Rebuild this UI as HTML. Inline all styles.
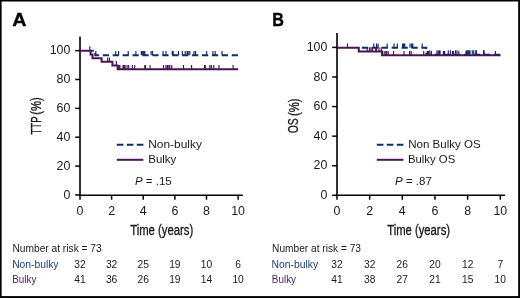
<!DOCTYPE html>
<html><head><meta charset="utf-8"><style>
html,body{margin:0;padding:0;background:#fff;}
body{width:520px;height:298px;overflow:hidden;}
svg{display:block;font-family:"Liberation Sans", sans-serif;will-change:transform;}
</style></head><body>
<svg width="520" height="298" viewBox="0 0 520 298">
<rect x="0" y="0" width="520" height="298" fill="#fff"/>
<path d="M80.0 36.6 V195.2 H242.8" fill="none" stroke="#000" stroke-width="1.6"/>
<line x1="75.2" y1="50.65" x2="80.0" y2="50.65" stroke="#000" stroke-width="1.5"/>
<text x="70.4" y="54.25" font-size="12.4" text-anchor="end" fill="#1a1a1a" font-weight="normal" font-style="normal" >100</text>
<line x1="75.2" y1="79.51" x2="80.0" y2="79.51" stroke="#000" stroke-width="1.5"/>
<text x="70.4" y="83.11" font-size="12.4" text-anchor="end" fill="#1a1a1a" font-weight="normal" font-style="normal" >80</text>
<line x1="75.2" y1="108.37" x2="80.0" y2="108.37" stroke="#000" stroke-width="1.5"/>
<text x="70.4" y="111.97" font-size="12.4" text-anchor="end" fill="#1a1a1a" font-weight="normal" font-style="normal" >60</text>
<line x1="75.2" y1="137.23" x2="80.0" y2="137.23" stroke="#000" stroke-width="1.5"/>
<text x="70.4" y="140.83" font-size="12.4" text-anchor="end" fill="#1a1a1a" font-weight="normal" font-style="normal" >40</text>
<line x1="75.2" y1="166.09" x2="80.0" y2="166.09" stroke="#000" stroke-width="1.5"/>
<text x="70.4" y="169.69" font-size="12.4" text-anchor="end" fill="#1a1a1a" font-weight="normal" font-style="normal" >20</text>
<line x1="75.2" y1="194.95" x2="80.0" y2="194.95" stroke="#000" stroke-width="1.5"/>
<text x="70.4" y="198.55" font-size="12.4" text-anchor="end" fill="#1a1a1a" font-weight="normal" font-style="normal" >0</text>
<line x1="80.00" y1="195.2" x2="80.00" y2="199.7" stroke="#000" stroke-width="1.5"/>
<text x="80.00" y="215.0" font-size="12.4" text-anchor="middle" fill="#1a1a1a" font-weight="normal" font-style="normal" >0</text>
<line x1="111.62" y1="195.2" x2="111.62" y2="199.7" stroke="#000" stroke-width="1.5"/>
<text x="111.62" y="215.0" font-size="12.4" text-anchor="middle" fill="#1a1a1a" font-weight="normal" font-style="normal" >2</text>
<line x1="143.24" y1="195.2" x2="143.24" y2="199.7" stroke="#000" stroke-width="1.5"/>
<text x="143.24" y="215.0" font-size="12.4" text-anchor="middle" fill="#1a1a1a" font-weight="normal" font-style="normal" >4</text>
<line x1="174.86" y1="195.2" x2="174.86" y2="199.7" stroke="#000" stroke-width="1.5"/>
<text x="174.86" y="215.0" font-size="12.4" text-anchor="middle" fill="#1a1a1a" font-weight="normal" font-style="normal" >6</text>
<line x1="206.48" y1="195.2" x2="206.48" y2="199.7" stroke="#000" stroke-width="1.5"/>
<text x="206.48" y="215.0" font-size="12.4" text-anchor="middle" fill="#1a1a1a" font-weight="normal" font-style="normal" >8</text>
<line x1="238.10" y1="195.2" x2="238.10" y2="199.7" stroke="#000" stroke-width="1.5"/>
<text x="238.10" y="215.0" font-size="12.4" text-anchor="middle" fill="#1a1a1a" font-weight="normal" font-style="normal" >10</text>
<path d="M337.0 33.1 V195.2 H505.0" fill="none" stroke="#000" stroke-width="1.6"/>
<line x1="332.2" y1="47.40" x2="337.0" y2="47.40" stroke="#000" stroke-width="1.5"/>
<text x="327.4" y="51.00" font-size="12.4" text-anchor="end" fill="#1a1a1a" font-weight="normal" font-style="normal" >100</text>
<line x1="332.2" y1="76.98" x2="337.0" y2="76.98" stroke="#000" stroke-width="1.5"/>
<text x="327.4" y="80.58" font-size="12.4" text-anchor="end" fill="#1a1a1a" font-weight="normal" font-style="normal" >80</text>
<line x1="332.2" y1="106.56" x2="337.0" y2="106.56" stroke="#000" stroke-width="1.5"/>
<text x="327.4" y="110.16" font-size="12.4" text-anchor="end" fill="#1a1a1a" font-weight="normal" font-style="normal" >60</text>
<line x1="332.2" y1="136.14" x2="337.0" y2="136.14" stroke="#000" stroke-width="1.5"/>
<text x="327.4" y="139.74" font-size="12.4" text-anchor="end" fill="#1a1a1a" font-weight="normal" font-style="normal" >40</text>
<line x1="332.2" y1="165.72" x2="337.0" y2="165.72" stroke="#000" stroke-width="1.5"/>
<text x="327.4" y="169.32" font-size="12.4" text-anchor="end" fill="#1a1a1a" font-weight="normal" font-style="normal" >20</text>
<line x1="332.2" y1="195.30" x2="337.0" y2="195.30" stroke="#000" stroke-width="1.5"/>
<text x="327.4" y="198.90" font-size="12.4" text-anchor="end" fill="#1a1a1a" font-weight="normal" font-style="normal" >0</text>
<line x1="337.00" y1="195.2" x2="337.00" y2="199.7" stroke="#000" stroke-width="1.5"/>
<text x="337.00" y="215.0" font-size="12.4" text-anchor="middle" fill="#1a1a1a" font-weight="normal" font-style="normal" >0</text>
<line x1="369.66" y1="195.2" x2="369.66" y2="199.7" stroke="#000" stroke-width="1.5"/>
<text x="369.66" y="215.0" font-size="12.4" text-anchor="middle" fill="#1a1a1a" font-weight="normal" font-style="normal" >2</text>
<line x1="402.32" y1="195.2" x2="402.32" y2="199.7" stroke="#000" stroke-width="1.5"/>
<text x="402.32" y="215.0" font-size="12.4" text-anchor="middle" fill="#1a1a1a" font-weight="normal" font-style="normal" >4</text>
<line x1="434.98" y1="195.2" x2="434.98" y2="199.7" stroke="#000" stroke-width="1.5"/>
<text x="434.98" y="215.0" font-size="12.4" text-anchor="middle" fill="#1a1a1a" font-weight="normal" font-style="normal" >6</text>
<line x1="467.64" y1="195.2" x2="467.64" y2="199.7" stroke="#000" stroke-width="1.5"/>
<text x="467.64" y="215.0" font-size="12.4" text-anchor="middle" fill="#1a1a1a" font-weight="normal" font-style="normal" >8</text>
<line x1="500.30" y1="195.2" x2="500.30" y2="199.7" stroke="#000" stroke-width="1.5"/>
<text x="500.30" y="215.0" font-size="12.4" text-anchor="middle" fill="#1a1a1a" font-weight="normal" font-style="normal" >10</text>
<text x="12.35" y="26.00" font-size="18.2" font-weight="bold" fill="#000" stroke="#000" stroke-width="0.35" textLength="14.24" lengthAdjust="spacingAndGlyphs">A</text>
<text x="272.24" y="26.00" font-size="18.2" font-weight="bold" fill="#000" stroke="#000" stroke-width="0.35" textLength="11.66" lengthAdjust="spacingAndGlyphs">B</text>
<text x="130.16" y="235.00" font-size="15.3" font-weight="normal" fill="#1a1a1a" stroke="#1a1a1a" stroke-width="0.35" textLength="63.05" lengthAdjust="spacingAndGlyphs">Time (years)</text>
<text x="387.17" y="235.40" font-size="15.3" font-weight="normal" fill="#1a1a1a" stroke="#1a1a1a" stroke-width="0.35" textLength="62.87" lengthAdjust="spacingAndGlyphs">Time (years)</text>
<text transform="translate(41.19 134.52) rotate(-90)" x="0" y="0" font-size="14.6" font-weight="normal" fill="#1a1a1a" stroke="#1a1a1a" stroke-width="0.3" textLength="18.12" lengthAdjust="spacingAndGlyphs">TTP</text>
<text transform="translate(41.36 114.76) rotate(-90)" x="0" y="0" font-size="14.6" font-weight="normal" fill="#1a1a1a" stroke="#1a1a1a" stroke-width="0.3" textLength="17.51" lengthAdjust="spacingAndGlyphs">(%)</text>
<text transform="translate(298.17 133.28) rotate(-90)" x="0" y="0" font-size="15.0" font-weight="normal" fill="#1a1a1a" stroke="#1a1a1a" stroke-width="0.3" textLength="15.09" lengthAdjust="spacingAndGlyphs">OS</text>
<text transform="translate(298.94 116.02) rotate(-90)" x="0" y="0" font-size="14.6" font-weight="normal" fill="#1a1a1a" stroke="#1a1a1a" stroke-width="0.3" textLength="17.59" lengthAdjust="spacingAndGlyphs">(%)</text>
<line x1="116.8" y1="144.8" x2="143.4" y2="144.8" stroke="#0f2c6c" stroke-width="2" stroke-dasharray="6.6 3.4"/>
<line x1="116.8" y1="159.8" x2="143.4" y2="159.8" stroke="#481654" stroke-width="2"/>
<text x="148.15" y="148.40" font-size="11.6" font-weight="normal" fill="#1a1a1a" textLength="53.74" lengthAdjust="spacingAndGlyphs">Non-bulky</text>
<text x="148.24" y="163.40" font-size="11.6" font-weight="normal" fill="#1a1a1a" textLength="28.05" lengthAdjust="spacingAndGlyphs">Bulky</text>
<text x="135.01" y="184.60" font-size="11.6" font-weight="normal" fill="#1a1a1a" textLength="36.73" lengthAdjust="spacingAndGlyphs"><tspan font-style="italic">P</tspan> = .15</text>
<line x1="376.8" y1="144.8" x2="403.40000000000003" y2="144.8" stroke="#0f2c6c" stroke-width="2" stroke-dasharray="6.6 3.4"/>
<line x1="376.8" y1="159.8" x2="403.40000000000003" y2="159.8" stroke="#481654" stroke-width="2"/>
<text x="408.18" y="148.40" font-size="11.6" font-weight="normal" fill="#1a1a1a" textLength="72.49" lengthAdjust="spacingAndGlyphs">Non Bulky OS</text>
<text x="407.89" y="163.40" font-size="11.6" font-weight="normal" fill="#1a1a1a" textLength="47.33" lengthAdjust="spacingAndGlyphs">Bulky OS</text>
<text x="395.02" y="184.60" font-size="11.6" font-weight="normal" fill="#1a1a1a" textLength="36.80" lengthAdjust="spacingAndGlyphs"><tspan font-style="italic">P</tspan> = .87</text>
<text x="12.43" y="252.10" font-size="11.0" font-weight="normal" fill="#1a1a1a" textLength="89.28" lengthAdjust="spacingAndGlyphs">Number at risk = 73</text>
<text x="12.14" y="267.60" font-size="11.0" font-weight="normal" fill="#1f3b7a" textLength="46.41" lengthAdjust="spacingAndGlyphs">Non-bulky</text>
<text x="12.26" y="282.90" font-size="11.0" font-weight="normal" fill="#4f2064" textLength="24.14" lengthAdjust="spacingAndGlyphs">Bulky</text>
<text x="80.00" y="267.9" font-size="11.0" text-anchor="middle" fill="#1a1a1a" font-weight="normal" font-style="normal" textLength="11.4" lengthAdjust="spacingAndGlyphs" >32</text>
<text x="80.00" y="283.0" font-size="11.0" text-anchor="middle" fill="#1a1a1a" font-weight="normal" font-style="normal" textLength="11.4" lengthAdjust="spacingAndGlyphs" >41</text>
<text x="111.62" y="267.9" font-size="11.0" text-anchor="middle" fill="#1a1a1a" font-weight="normal" font-style="normal" textLength="11.4" lengthAdjust="spacingAndGlyphs" >32</text>
<text x="111.62" y="283.0" font-size="11.0" text-anchor="middle" fill="#1a1a1a" font-weight="normal" font-style="normal" textLength="11.4" lengthAdjust="spacingAndGlyphs" >36</text>
<text x="143.24" y="267.9" font-size="11.0" text-anchor="middle" fill="#1a1a1a" font-weight="normal" font-style="normal" textLength="11.4" lengthAdjust="spacingAndGlyphs" >25</text>
<text x="143.24" y="283.0" font-size="11.0" text-anchor="middle" fill="#1a1a1a" font-weight="normal" font-style="normal" textLength="11.4" lengthAdjust="spacingAndGlyphs" >26</text>
<text x="174.86" y="267.9" font-size="11.0" text-anchor="middle" fill="#1a1a1a" font-weight="normal" font-style="normal" textLength="11.4" lengthAdjust="spacingAndGlyphs" >19</text>
<text x="174.86" y="283.0" font-size="11.0" text-anchor="middle" fill="#1a1a1a" font-weight="normal" font-style="normal" textLength="11.4" lengthAdjust="spacingAndGlyphs" >19</text>
<text x="206.48" y="267.9" font-size="11.0" text-anchor="middle" fill="#1a1a1a" font-weight="normal" font-style="normal" textLength="11.4" lengthAdjust="spacingAndGlyphs" >10</text>
<text x="206.48" y="283.0" font-size="11.0" text-anchor="middle" fill="#1a1a1a" font-weight="normal" font-style="normal" textLength="11.4" lengthAdjust="spacingAndGlyphs" >14</text>
<text x="238.10" y="267.9" font-size="11.0" text-anchor="middle" fill="#1a1a1a" font-weight="normal" font-style="normal" textLength="5.7" lengthAdjust="spacingAndGlyphs" >6</text>
<text x="238.10" y="283.0" font-size="11.0" text-anchor="middle" fill="#1a1a1a" font-weight="normal" font-style="normal" textLength="11.4" lengthAdjust="spacingAndGlyphs" >10</text>
<text x="272.05" y="252.10" font-size="11.0" font-weight="normal" fill="#1a1a1a" textLength="88.98" lengthAdjust="spacingAndGlyphs">Number at risk = 73</text>
<text x="271.51" y="267.60" font-size="11.0" font-weight="normal" fill="#1f3b7a" textLength="46.63" lengthAdjust="spacingAndGlyphs">Non-bulky</text>
<text x="271.84" y="282.90" font-size="11.0" font-weight="normal" fill="#4f2064" textLength="24.20" lengthAdjust="spacingAndGlyphs">Bulky</text>
<text x="337.00" y="267.9" font-size="11.0" text-anchor="middle" fill="#1a1a1a" font-weight="normal" font-style="normal" textLength="11.4" lengthAdjust="spacingAndGlyphs" >32</text>
<text x="337.00" y="283.0" font-size="11.0" text-anchor="middle" fill="#1a1a1a" font-weight="normal" font-style="normal" textLength="11.4" lengthAdjust="spacingAndGlyphs" >41</text>
<text x="369.66" y="267.9" font-size="11.0" text-anchor="middle" fill="#1a1a1a" font-weight="normal" font-style="normal" textLength="11.4" lengthAdjust="spacingAndGlyphs" >32</text>
<text x="369.66" y="283.0" font-size="11.0" text-anchor="middle" fill="#1a1a1a" font-weight="normal" font-style="normal" textLength="11.4" lengthAdjust="spacingAndGlyphs" >38</text>
<text x="402.32" y="267.9" font-size="11.0" text-anchor="middle" fill="#1a1a1a" font-weight="normal" font-style="normal" textLength="11.4" lengthAdjust="spacingAndGlyphs" >26</text>
<text x="402.32" y="283.0" font-size="11.0" text-anchor="middle" fill="#1a1a1a" font-weight="normal" font-style="normal" textLength="11.4" lengthAdjust="spacingAndGlyphs" >27</text>
<text x="434.98" y="267.9" font-size="11.0" text-anchor="middle" fill="#1a1a1a" font-weight="normal" font-style="normal" textLength="11.4" lengthAdjust="spacingAndGlyphs" >20</text>
<text x="434.98" y="283.0" font-size="11.0" text-anchor="middle" fill="#1a1a1a" font-weight="normal" font-style="normal" textLength="11.4" lengthAdjust="spacingAndGlyphs" >21</text>
<text x="467.64" y="267.9" font-size="11.0" text-anchor="middle" fill="#1a1a1a" font-weight="normal" font-style="normal" textLength="11.4" lengthAdjust="spacingAndGlyphs" >12</text>
<text x="467.64" y="283.0" font-size="11.0" text-anchor="middle" fill="#1a1a1a" font-weight="normal" font-style="normal" textLength="11.4" lengthAdjust="spacingAndGlyphs" >15</text>
<text x="500.30" y="267.9" font-size="11.0" text-anchor="middle" fill="#1a1a1a" font-weight="normal" font-style="normal" textLength="5.7" lengthAdjust="spacingAndGlyphs" >7</text>
<text x="500.30" y="283.0" font-size="11.0" text-anchor="middle" fill="#1a1a1a" font-weight="normal" font-style="normal" textLength="11.4" lengthAdjust="spacingAndGlyphs" >10</text>
<path d="M90.6 50.7 H95.2 V55.3 H238.1" fill="none" stroke="#0f2c6c" stroke-width="1.9" stroke-dasharray="6.2 3.72" stroke-dashoffset="3.04"/>
<path d="M95.8 55.3 v-4.4 M115.7 55.3 v-4.4 M118.6 55.3 v-4.4 M128.2 55.3 v-4.4 M135.9 55.3 v-4.4 M141.3 55.3 v-4.4 M142.3 55.3 v-4.4 M143.6 55.3 v-4.4 M144.8 55.3 v-4.4 M151.1 55.3 v-4.4 M152.5 55.3 v-4.4 M163.1 55.3 v-4.4 M166 55.3 v-4.4 M172.2 55.3 v-4.4 M173.2 55.3 v-4.4 M178.5 55.3 v-4.4 M182.3 55.3 v-4.4 M185.2 55.3 v-4.4 M187.1 55.3 v-4.4 M188.2 55.3 v-4.4 M189.8 55.3 v-4.4 M194 55.3 v-4.4 M195.6 55.3 v-4.4 M206.7 55.3 v-4.4 M213 55.3 v-4.4 M215.2 55.3 v-4.4 M222 55.3 v-4.4" stroke="#0f2c6c" stroke-width="1.15" fill="none"/>
<path d="M80 50.7 H90.6 V54.5 H92.5 V58.2 H101.6 V61.8 H112.4 V65.5 H117.6 V69.3 H238.1" fill="none" stroke="#481654" stroke-width="2"/>
<path d="M89.8 50.7 v-4.4" stroke="#481654" stroke-width="1.15" fill="none"/>
<path d="M107.7 61.8 v-4.4 M109.5 61.8 v-4.4" stroke="#481654" stroke-width="1.15" fill="none"/>
<path d="M116.4 65.5 v-4.4" stroke="#481654" stroke-width="1.15" fill="none"/>
<path d="M118.7 69.3 v-4.4 M119.9 69.3 v-4.4 M123 69.3 v-4.4 M123.9 69.3 v-4.4 M125.1 69.3 v-4.4 M127.1 69.3 v-4.4 M128.7 69.3 v-4.4 M132.3 69.3 v-4.4 M134.7 69.3 v-4.4 M144.8 69.3 v-4.4 M145.5 69.3 v-4.4 M150.1 69.3 v-4.4 M163.6 69.3 v-4.4 M166 69.3 v-4.4 M167.4 69.3 v-4.4 M168.9 69.3 v-4.4 M169.8 69.3 v-4.4 M171.8 69.3 v-4.4 M183.5 69.3 v-4.4 M191.6 69.3 v-4.4 M204.5 69.3 v-4.4 M205.3 69.3 v-4.4 M209.8 69.3 v-4.4 M211.3 69.3 v-4.4 M213.8 69.3 v-4.4 M219 69.3 v-4.4 M233.1 69.3 v-4.4" stroke="#481654" stroke-width="1.15" fill="none"/>
<path d="M358.8 47.8 H426.3 V54.7 H500.5" fill="none" stroke="#0f2c6c" stroke-width="1.9" stroke-dasharray="6.2 3.72" stroke-dashoffset="6.82"/>
<path d="M373.75 47.8 v-4.4 M376.6 47.8 v-4.4 M378.1 47.8 v-4.4 M387.2 47.8 v-4.4 M394 47.8 v-4.4 M397.3 47.8 v-4.4 M402.6 47.8 v-4.4 M403.6 47.8 v-4.4 M404.8 47.8 v-4.4 M410 47.8 v-4.4 M411.6 47.8 v-4.4 M412.8 47.8 v-4.4 M422.2 47.8 v-4.4" stroke="#0f2c6c" stroke-width="1.15" fill="none"/>
<path d="M429.8 54.7 v-4.4 M437 54.7 v-4.4 M439 54.7 v-4.4 M440 54.7 v-4.4 M448.3 54.7 v-4.4 M450.4 54.7 v-4.4 M455.5 54.7 v-4.4 M457 54.7 v-4.4 M466.5 54.7 v-4.4 M467.7 54.7 v-4.4 M468.8 54.7 v-4.4 M470 54.7 v-4.4 M472.3 54.7 v-4.4 M473.8 54.7 v-4.4 M475.8 54.7 v-4.4 M476.5 54.7 v-4.4 M483.5 54.7 v-4.4 M484.2 54.7 v-4.4" stroke="#0f2c6c" stroke-width="1.15" fill="none"/>
<path d="M337 47.8 H358.8 V51.6 H382 V55.3 H500.5" fill="none" stroke="#481654" stroke-width="2"/>
<path d="M347.5 47.8 v-4.4" stroke="#481654" stroke-width="1.15" fill="none"/>
<path d="M367.2 51.6 v-4.4 M369.4 51.6 v-4.4 M370.9 51.6 v-4.4 M372.4 51.6 v-4.4 M375.7 51.6 v-4.4 M376.4 51.6 v-4.4 M379 51.6 v-4.4 M381.2 51.6 v-4.4" stroke="#481654" stroke-width="1.15" fill="none"/>
<path d="M384.2 55.3 v-4.4 M385.8 55.3 v-4.4 M386.6 55.3 v-4.4 M388.2 55.3 v-4.4 M393.5 55.3 v-4.4 M404 55.3 v-4.4 M409.6 55.3 v-4.4 M411.2 55.3 v-4.4 M423.7 55.3 v-4.4 M427.3 55.3 v-4.4 M428.5 55.3 v-4.4 M431.4 55.3 v-4.4 M438.2 55.3 v-4.4 M443.4 55.3 v-4.4 M444.6 55.3 v-4.4 M452.5 55.3 v-4.4 M453.4 55.3 v-4.4 M458.8 55.3 v-4.4 M466 55.3 v-4.4 M495.4 55.3 v-4.4" stroke="#481654" stroke-width="1.15" fill="none"/>
<rect x="0" y="0" width="520" height="1.5" fill="#000"/>
<rect x="0" y="0" width="1.6" height="298" fill="#000"/>
<rect x="518.2" y="0" width="1.8" height="298" fill="#000"/>
<rect x="0" y="296.1" width="520" height="1.9" fill="#000"/>
</svg>
</body></html>
